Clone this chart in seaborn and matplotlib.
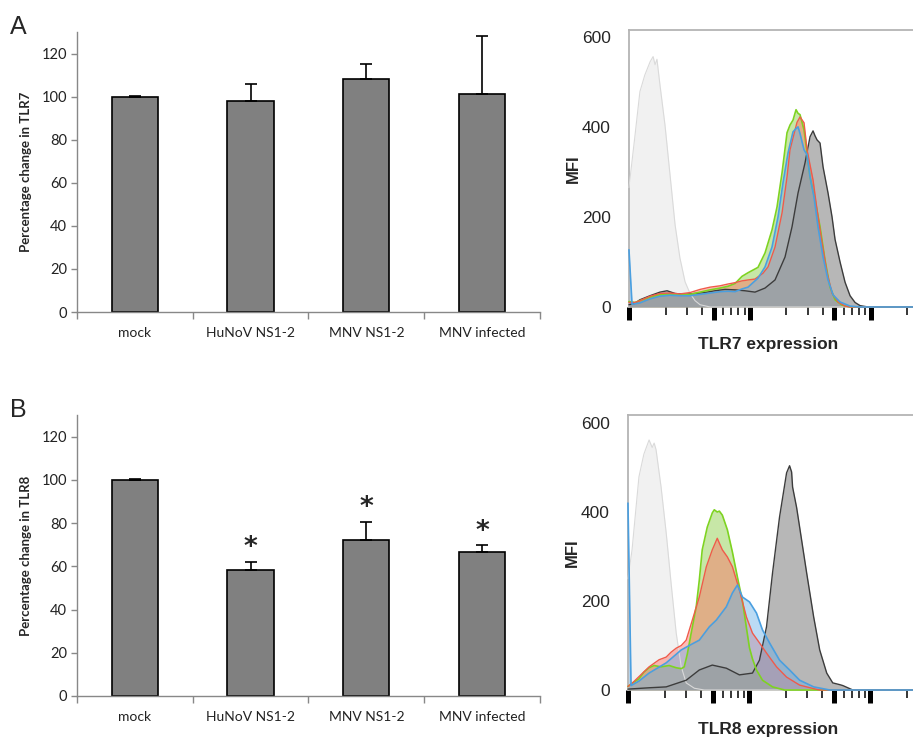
import matplotlib
matplotlib.use("Agg")
import matplotlib.pyplot as plt
import pandas as pd
import seaborn as sns
from matplotlib.ticker import FixedLocator, NullFormatter

# ---- bar chart data (percentage change vs mock) ----
groups = ["mock", "HuNoV NS1-2", "MNV NS1-2", "MNV infected"]
tlr7_pct = [100, 98, 108, 101]
tlr7_err = [0.3, 8, 7, 27]
tlr8_pct = [100, 58.5, 72, 66.5]
tlr8_err = [0.3, 3.5, 8.5, 3.2]
tlr8_star = [False, True, True, True]

# ---- flow cytometry histograms (fluorescence intensity, cell count) ----
tlr7_lightgray_x = [9.9, 11.1, 12.2, 13.4, 14.8, 15.7, 16.3, 16.9, 17.9, 19.7, 21.7, 23.9, 26.2, 28.9, 31.8, 35.0, 38.5, 46.6, 2250]
tlr7_lightgray_y = [265, 380, 478, 515, 544, 556, 538, 550, 493, 404, 293, 182, 109, 56, 30, 14, 5, 0, 0]

tlr7_green_x = [9.9, 11.1, 12.2, 14.8, 17.9, 21.7, 26.2, 31.8, 38.5, 46.6, 56.4, 65.7, 75.1, 85.8, 96.2, 105.9,
                116.5, 133.2, 152.2, 167.5, 184.4, 202.8, 214.7, 227.4, 240.9, 250.2, 260.0, 280.6, 297.2, 314.7,
                346.3, 381.0, 419.2, 461.2, 507.5, 580.1, 676.0, 2250]
tlr7_green_y = [12, 10, 14, 22, 27, 29, 27, 28, 33, 38, 42, 46, 52, 68, 76, 82,
                88, 120, 171, 222, 298, 387, 404, 415, 438, 430, 427, 393, 342, 289,
                238, 178, 104, 44, 16, 4, 0, 0]

tlr7_red_x = [9.9, 11.1, 12.2, 14.8, 17.9, 21.7, 26.2, 31.8, 38.5, 46.6, 56.4, 65.7, 75.1, 85.8, 96.2, 110.0,
              128.2, 141.1, 161.2, 184.4, 202.8, 214.7, 236.3, 245.5, 260.0, 280.6, 297.2, 333.3, 359.7, 395.9,
              435.5, 479.1, 537.5, 614.4, 676.0, 2250]
tlr7_red_y = [10, 10, 14, 24, 30, 31, 29, 32, 39, 44, 47, 51, 54, 58, 60, 62,
              75, 89, 133, 209, 289, 349, 393, 410, 422, 409, 349, 282, 216, 142,
              76, 31, 11, 2, 0, 0]

tlr7_blue_x = [9.9, 10.5, 12.2, 14.8, 17.9, 21.7, 26.2, 31.8, 38.5, 46.6, 56.4, 65.7, 75.1, 85.8, 96.2, 116.5,
               133.2, 152.2, 170.8, 187.9, 206.7, 227.4, 240.9, 250.2, 260.0, 280.6, 297.2, 314.7, 339.7, 366.6,
               403.6, 443.9, 488.3, 558.4, 676.0, 818.3, 2250]
tlr7_blue_y = [127, 6, 9, 18, 24, 26, 25, 25, 28, 31, 34, 35, 34, 40, 44, 64,
               89, 133, 200, 276, 342, 389, 396, 400, 385, 349, 338, 289, 244, 178,
               111, 60, 27, 11, 2, 0, 0]

tlr7_darkgray_x = [9.9, 11.1, 12.2, 14.8, 17.9, 20.5, 23.9, 28.9, 35.0, 42.3, 51.2, 62.0, 75.1, 90.9, 110.0, 133.2,
                   161.2, 195.2, 223.1, 250.2, 286.0, 314.7, 333.3, 346.3, 359.7, 381.0, 403.6, 443.9, 479.1, 507.5,
                   558.4, 614.4, 676.0, 743.7, 818.3, 953.4, 2250]
tlr7_darkgray_y = [5, 8, 16, 25, 33, 36, 30, 28, 30, 32, 36, 39, 38, 36, 33, 42,
                   60, 111, 178, 253, 320, 378, 391, 380, 371, 364, 311, 253, 200, 150,
                   100, 55, 25, 10, 3, 0, 0]

tlr8_lightgray_x = [9.9, 10.7, 12.2, 13.4, 14.8, 15.7, 16.3, 16.9, 18.6, 20.5, 22.5, 24.8, 27.3, 30.0, 35.0, 42.3, 2250]
tlr8_lightgray_y = [250, 315, 479, 530, 562, 545, 555, 540, 456, 353, 240, 128, 52, 16, 4, 0, 0]

tlr8_green_x = [9.9, 10.7, 12.2, 13.4, 14.8, 16.3, 18.6, 21.7, 24.8, 27.3, 28.9, 30.6, 33.0, 36.3, 38.5, 40.7,
                44.8, 49.3, 51.2, 54.2, 56.4, 59.7, 65.7, 72.3, 79.5, 87.5, 94.4, 100.0, 105.9, 114.3,
                128.2, 155.2, 195.2, 2250]
tlr8_green_y = [8, 15, 25, 40, 50, 55, 52, 55, 50, 48, 52, 80, 128, 187, 247, 315,
                366, 398, 405, 400, 402, 393, 360, 310, 254, 200, 140, 95, 70, 45,
                22, 7, 0, 0]

tlr8_red_x = [9.9, 10.7, 12.2, 14.8, 17.9, 20.5, 22.5, 24.8, 27.3, 30.0, 33.7, 38.5, 44.0, 49.3, 54.2, 56.4,
              59.7, 65.7, 72.3, 82.6, 94.4, 105.9, 121.0, 138.4, 167.5, 202.8, 260.0, 339.7, 381.0, 2250]
tlr8_red_y = [8, 15, 30, 52, 68, 74, 85, 94, 100, 112, 157, 209, 277, 315, 341, 330,
              315, 299, 277, 225, 164, 128, 106, 83, 52, 29, 11, 3, 0, 0]

tlr8_blue_x = [9.9, 10.5, 12.2, 14.8, 20.5, 27.3, 31.8, 38.5, 46.6, 53.2, 64.4, 72.3, 79.5, 87.5, 100.0, 114.3,
               128.2, 146.5, 177.4, 214.7, 260.0, 339.7, 461.2, 2250]
tlr8_blue_y = [420, 10, 20, 38, 61, 90, 100, 112, 142, 157, 187, 218, 236, 209, 198, 173,
               135, 106, 67, 45, 22, 7, 0, 0]

tlr8_darkgray_x = [9.9, 14.8, 20.5, 30.0, 38.5, 49.3, 64.4, 82.6, 105.9, 121.0, 138.4, 155.2, 177.4, 202.8, 214.7,
                   223.1, 227.4, 245.5, 260.0, 297.2, 339.7, 381.0, 435.5, 488.3, 558.4, 591.3, 715.8, 2250]
tlr8_darkgray_y = [2, 5, 7, 22, 45, 56, 49, 34, 38, 67, 142, 263, 389, 488, 504,
                   490, 456, 410, 366, 263, 164, 90, 38, 16, 12, 10, 0, 0]

sns.set_style("white")
plt.rcParams["font.family"] = ["Lato", "DejaVu Sans"]

fig = plt.figure(figsize=(9.13, 7.39), dpi=100)


def bar_panel(rect, values, errs, ylabel, stars=None):
    ax = fig.add_axes(rect)
    df = pd.DataFrame({"group": groups, "pct": values})
    sns.barplot(data=df, x="group", y="pct", ax=ax, color="#808080", saturation=1,
                width=0.4, edgecolor="black", linewidth=1.2, errorbar=None, zorder=2)
    ax.errorbar(range(len(groups)), values, yerr=[[0] * len(errs), errs], fmt="none",
                ecolor="black", elinewidth=1.2, capsize=4.5, capthick=1.2, zorder=3)
    if stars is not None:
        for i, s in enumerate(stars):
            if s:
                ax.text(i, values[i] + errs[i] + 0.3, "*", ha="center", va="bottom",
                        fontsize=19, fontweight="bold", family="DejaVu Sans")
    ax.set_ylim(0, 130)
    ax.set_xlim(-0.5, len(groups) - 0.5)
    ax.set_yticks(range(0, 121, 20))
    ax.set_xticks([i - 0.5 for i in range(len(groups) + 1)])
    ax.set_xticklabels([])
    ax.set_xticks(range(len(groups)), minor=True)
    ax.set_xticklabels(groups, minor=True)
    ax.tick_params(axis="x", which="major", direction="out", length=5, width=1, color="#888888", bottom=True)
    ax.tick_params(axis="x", which="minor", length=0, pad=11, labelsize=10, labelcolor="#222222")
    ax.tick_params(axis="y", direction="out", length=4, width=1, color="#888888", left=True,
                   labelsize=10.5, labelcolor="#222222", pad=3)
    for side in ["top", "right"]:
        ax.spines[side].set_visible(False)
    for side in ["left", "bottom"]:
        ax.spines[side].set_color("#888888")
        ax.spines[side].set_linewidth(1)
    ax.set_xlabel("")
    ax.set_ylabel(ylabel, fontsize=9.5, fontweight="bold")
    ax.yaxis.set_label_coords(-0.097, 0.5)
    return ax


def hist_panel(rect, curves, xlabel, ytop):
    ax = fig.add_axes(rect)
    # fills first (dark gray sits under the coloured ones), outlines on top
    for x, y, fc, ec, a, lw in curves:
        ax.fill_between(x, y, 0, color=fc, alpha=a, linewidth=0)
    for x, y, fc, ec, a, lw in curves:
        ax.plot(x, y, color=ec, linewidth=lw, clip_on=False, zorder=3)
    ax.set_xscale("log")
    ax.set_xlim(9.9, 2250)
    ax.set_ylim(0, ytop)
    ax.xaxis.set_major_locator(FixedLocator([10, 50, 100, 500, 1000]))
    ax.xaxis.set_minor_locator(FixedLocator([20, 30, 40, 60, 70, 80, 90, 200, 300, 400,
                                             600, 700, 800, 900, 2000]))
    ax.xaxis.set_major_formatter(NullFormatter())
    ax.xaxis.set_minor_formatter(NullFormatter())
    ax.tick_params(axis="x", which="major", direction="out", length=9.5, width=3.6, color="black", bottom=True)
    ax.tick_params(axis="x", which="minor", direction="out", length=6, width=1.1, color="black", bottom=True)
    ax.set_yticks([0, 200, 400, 600])
    ax.tick_params(axis="y", length=0, pad=13, labelsize=12.5)
    for t in ax.get_yticklabels():
        t.set_family("Liberation Sans")
    ax.spines["right"].set_visible(False)
    ax.spines["bottom"].set_visible(False)
    for side in ["left", "top"]:
        ax.spines[side].set_color("#b4b4b4")
        ax.spines[side].set_linewidth(1.3)
    ax.set_ylabel("MFI", fontsize=12, fontweight="bold", family="Liberation Sans")
    ax.yaxis.set_label_coords(-0.169, 0.5)
    ax.set_xlabel(xlabel, fontsize=12.5, fontweight="bold", family="Liberation Sans")
    ax.xaxis.label.set_verticalalignment("center")
    return ax


def curve_set(lg_x, lg_y, g_x, g_y, r_x, r_y, b_x, b_y, d_x, d_y):
    return [
        (lg_x, lg_y, "#ececec", "#dadada", 0.7, 0.8),
        (d_x, d_y, "#4d4d4d", "#3c3c3c", 0.4, 1.0),
        (g_x, g_y, "#75c525", "#7ed321", 0.4, 1.2),
        (r_x, r_y, "#fd6b62", "#f05a4a", 0.45, 1.0),
        (b_x, b_y, "#6ab0e8", "#4a9fe0", 0.45, 1.2),
    ]


bar_panel([0.0843, 0.5778, 0.5071, 0.3789], tlr7_pct, tlr7_err, "Percentage change in TLR7")
bar_panel([0.0843, 0.0582, 0.5071, 0.3802], tlr8_pct, tlr8_err, "Percentage change in TLR8", tlr8_star)

ax7 = hist_panel([0.6889, 0.5846, 0.3111, 0.3748],
                 curve_set(tlr7_lightgray_x, tlr7_lightgray_y, tlr7_green_x, tlr7_green_y, tlr7_red_x, tlr7_red_y,
                           tlr7_blue_x, tlr7_blue_y, tlr7_darkgray_x, tlr7_darkgray_y),
                 "TLR7 expression", 615)
ax7.xaxis.set_label_coords(0.49, -0.137)
ax8 = hist_panel([0.6878, 0.0663, 0.3122, 0.3721],
                 curve_set(tlr8_lightgray_x, tlr8_lightgray_y, tlr8_green_x, tlr8_green_y, tlr8_red_x, tlr8_red_y,
                           tlr8_blue_x, tlr8_blue_y, tlr8_darkgray_x, tlr8_darkgray_y),
                 "TLR8 expression", 618)
ax8.xaxis.set_label_coords(0.49, -0.142)

fig.text(18 / 913, 1 - 27 / 739, "A", fontsize=18, family="Liberation Sans", ha="center", va="center")
fig.text(18 / 913, 1 - 410 / 739, "B", fontsize=18, family="Liberation Sans", ha="center", va="center")

fig.savefig("out.png", dpi=100)
